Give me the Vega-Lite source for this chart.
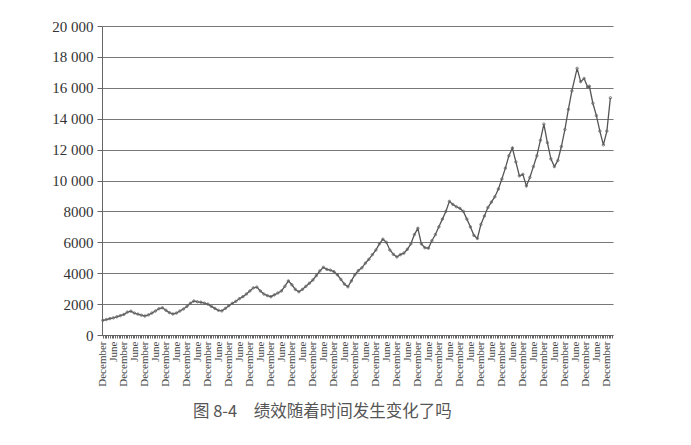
{
  "$schema": "https://vega.github.io/schema/vega-lite/v6.json",
  "width": 511,
  "height": 309,
  "autosize": "none",
  "padding": {"left": 102, "top": 26, "right": 78, "bottom": 110},
  "background": "white",
  "config": {"view": {"stroke": null}, "font": "Liberation Serif"},
  "title": {
    "text": "图 8-4\u3000绩效随着时间发生变化了吗",
    "orient": "bottom",
    "anchor": "start",
    "frame": "group",
    "dx": 91,
    "offset": 18,
    "font": "Noto Sans CJK SC",
    "fontSize": 16.5,
    "fontWeight": "normal",
    "color": "#555"
  },
  "data": {
    "values": [
      {"m": 0, "v": 950}, {"m": 2, "v": 1000}, {"m": 4, "v": 1060}, {"m": 6, "v": 1110},
      {"m": 8, "v": 1180}, {"m": 10, "v": 1250}, {"m": 12, "v": 1330}, {"m": 14, "v": 1480},
      {"m": 16, "v": 1540}, {"m": 18, "v": 1420}, {"m": 20, "v": 1350}, {"m": 22, "v": 1280},
      {"m": 24, "v": 1230}, {"m": 26, "v": 1300}, {"m": 28, "v": 1420}, {"m": 30, "v": 1550},
      {"m": 32, "v": 1700}, {"m": 34, "v": 1760}, {"m": 36, "v": 1600}, {"m": 38, "v": 1450},
      {"m": 40, "v": 1360}, {"m": 42, "v": 1420}, {"m": 44, "v": 1550}, {"m": 46, "v": 1680},
      {"m": 48, "v": 1850}, {"m": 50, "v": 2050}, {"m": 52, "v": 2200}, {"m": 54, "v": 2150},
      {"m": 56, "v": 2120}, {"m": 58, "v": 2060}, {"m": 60, "v": 2000}, {"m": 62, "v": 1850},
      {"m": 64, "v": 1720}, {"m": 66, "v": 1600}, {"m": 68, "v": 1560}, {"m": 70, "v": 1720},
      {"m": 72, "v": 1900}, {"m": 74, "v": 2050}, {"m": 76, "v": 2180}, {"m": 78, "v": 2350},
      {"m": 80, "v": 2480}, {"m": 82, "v": 2650}, {"m": 84, "v": 2850}, {"m": 86, "v": 3050},
      {"m": 88, "v": 3100}, {"m": 90, "v": 2850}, {"m": 92, "v": 2650}, {"m": 94, "v": 2550},
      {"m": 96, "v": 2480}, {"m": 98, "v": 2600}, {"m": 100, "v": 2720}, {"m": 102, "v": 2850},
      {"m": 104, "v": 3150}, {"m": 106, "v": 3500}, {"m": 108, "v": 3250}, {"m": 110, "v": 2950},
      {"m": 112, "v": 2800}, {"m": 114, "v": 2950}, {"m": 116, "v": 3150}, {"m": 118, "v": 3350},
      {"m": 120, "v": 3560}, {"m": 122, "v": 3850}, {"m": 124, "v": 4150}, {"m": 126, "v": 4380},
      {"m": 128, "v": 4250}, {"m": 130, "v": 4200}, {"m": 132, "v": 4100}, {"m": 134, "v": 3900},
      {"m": 136, "v": 3600}, {"m": 138, "v": 3300}, {"m": 140, "v": 3120}, {"m": 142, "v": 3500},
      {"m": 144, "v": 3900}, {"m": 146, "v": 4170}, {"m": 148, "v": 4350}, {"m": 150, "v": 4650},
      {"m": 152, "v": 4900}, {"m": 154, "v": 5200}, {"m": 156, "v": 5500}, {"m": 158, "v": 5900},
      {"m": 160, "v": 6200}, {"m": 162, "v": 6000}, {"m": 164, "v": 5500}, {"m": 166, "v": 5220},
      {"m": 168, "v": 5050}, {"m": 170, "v": 5200}, {"m": 172, "v": 5300}, {"m": 174, "v": 5550},
      {"m": 176, "v": 5900}, {"m": 178, "v": 6500}, {"m": 180, "v": 6900}, {"m": 182, "v": 5900},
      {"m": 184, "v": 5650}, {"m": 186, "v": 5620}, {"m": 188, "v": 6100}, {"m": 190, "v": 6500},
      {"m": 192, "v": 7000}, {"m": 194, "v": 7500}, {"m": 196, "v": 8000}, {"m": 198, "v": 8650},
      {"m": 200, "v": 8450}, {"m": 202, "v": 8300}, {"m": 204, "v": 8200}, {"m": 206, "v": 8000},
      {"m": 208, "v": 7500}, {"m": 210, "v": 7000}, {"m": 212, "v": 6450}, {"m": 214, "v": 6250},
      {"m": 216, "v": 7150}, {"m": 218, "v": 7700}, {"m": 220, "v": 8250}, {"m": 222, "v": 8600},
      {"m": 224, "v": 8950}, {"m": 226, "v": 9450}, {"m": 228, "v": 10100}, {"m": 230, "v": 10800},
      {"m": 232, "v": 11600}, {"m": 234, "v": 12100}, {"m": 236, "v": 11200}, {"m": 238, "v": 10300},
      {"m": 240, "v": 10400}, {"m": 242, "v": 9650}, {"m": 244, "v": 10200}, {"m": 246, "v": 10900},
      {"m": 248, "v": 11600}, {"m": 250, "v": 12600}, {"m": 252, "v": 13650}, {"m": 254, "v": 12450},
      {"m": 256, "v": 11400}, {"m": 258, "v": 10900}, {"m": 260, "v": 11300}, {"m": 262, "v": 12200},
      {"m": 264, "v": 13300}, {"m": 266, "v": 14600}, {"m": 268, "v": 15800}, {"m": 271, "v": 17260},
      {"m": 273, "v": 16400}, {"m": 275, "v": 16600}, {"m": 277, "v": 16050}, {"m": 278, "v": 16100},
      {"m": 280, "v": 15000}, {"m": 282, "v": 14200}, {"m": 284, "v": 13200}, {"m": 286, "v": 12300},
      {"m": 288, "v": 13200}, {"m": 290, "v": 15350}
    ]
  },
  "mark": {
    "type": "line",
    "color": "#555",
    "strokeWidth": 1.3,
    "point": {"filled": false, "size": 6, "color": "#666", "strokeWidth": 0.8}
  },
  "encoding": {
    "x": {
      "field": "m",
      "type": "quantitative",
      "scale": {"domain": [-0.5, 291.5], "nice": false, "zero": false},
      "axis": {
        "title": null,
        "tickCount": 300,
        "labelExpr": "datum.value % 12 == 0 ? 'December' : (datum.value % 6 == 0 ? 'June' : '')",
        "labelAngle": -90,
        "labelAlign": "right",
        "labelBaseline": "middle",
        "labelOverlap": false,
        "labelBound": false,
        "labelFlush": false,
        "labelFont": "Liberation Serif",
        "labelFontSize": 11,
        "labelColor": "#444",
        "labelPadding": 3,
        "tickSize": 3,
        "tickColor": "#666",
        "domainColor": "#666",
        "grid": false
      }
    },
    "y": {
      "field": "v",
      "type": "quantitative",
      "scale": {"domain": [0, 20000], "nice": false},
      "axis": {
        "title": null,
        "values": [0, 2000, 4000, 6000, 8000, 10000, 12000, 14000, 16000, 18000, 20000],
        "labelExpr": "datum.value >= 10000 ? replace(format(datum.value, ','), ',', ' ') : format(datum.value, 'd')",
        "labelFont": "Liberation Serif",
        "labelFontSize": 15,
        "labelColor": "#333",
        "labelPadding": 4,
        "tickSize": 5,
        "tickColor": "#666",
        "domainColor": "#666",
        "grid": true,
        "gridColor": "#777",
        "gridWidth": 1
      }
    }
  }
}
